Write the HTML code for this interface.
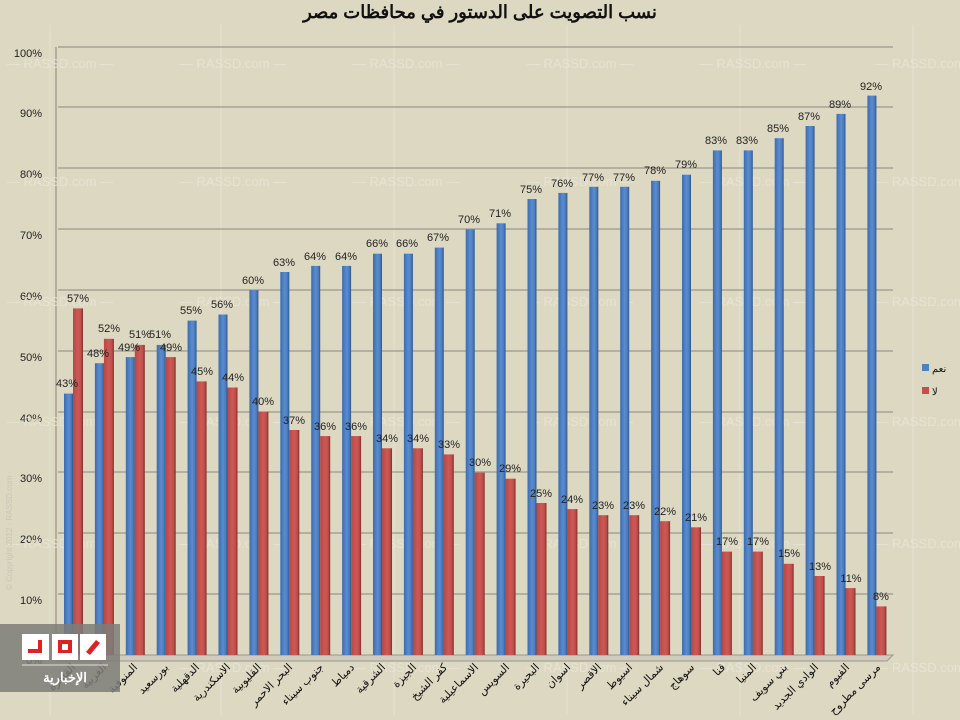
<!DOCTYPE html>
<html><head><meta charset="utf-8"><style>
html,body{margin:0;padding:0;background:#ddd8c2;}
svg{display:block;font-family:"Liberation Sans","Noto Sans CJK SC",sans-serif;}
</style></head><body>
<svg width="960" height="720" viewBox="0 0 960 720" xmlns="http://www.w3.org/2000/svg">
<defs>
<linearGradient id="gb" x1="0" x2="1"><stop offset="0" stop-color="#3a6cae"/><stop offset="0.5" stop-color="#5b8ccf"/><stop offset="0.8" stop-color="#4a7bbd"/><stop offset="1" stop-color="#2c558c"/></linearGradient>
<linearGradient id="gr" x1="0" x2="1"><stop offset="0" stop-color="#b84844"/><stop offset="0.5" stop-color="#cc5955"/><stop offset="0.8" stop-color="#bf4d49"/><stop offset="1" stop-color="#7e2e2c"/></linearGradient>
</defs>
<rect width="960" height="720" fill="#ddd8c2"/>
<g stroke="#e6e2d2" stroke-width="1">
<line x1="50" y1="25" x2="50" y2="715"/><line x1="221" y1="25" x2="221" y2="715"/><line x1="394" y1="25" x2="394" y2="715"/><line x1="567" y1="25" x2="567" y2="715"/><line x1="740" y1="25" x2="740" y2="715"/><line x1="913" y1="25" x2="913" y2="715"/>
</g>
<text x="480" y="18" text-anchor="middle" font-size="18" font-weight="bold" fill="#111">نسب التصويت على الدستور في محافظات مصر</text>
<g stroke="#9a988e" stroke-width="1.3" fill="none">
<line x1="58" y1="47" x2="893" y2="47"/><line x1="58" y1="107" x2="893" y2="107"/><line x1="58" y1="168" x2="893" y2="168"/><line x1="58" y1="229" x2="893" y2="229"/><line x1="58" y1="290" x2="893" y2="290"/><line x1="58" y1="351" x2="893" y2="351"/><line x1="58" y1="412" x2="893" y2="412"/><line x1="58" y1="472" x2="893" y2="472"/><line x1="58" y1="533" x2="893" y2="533"/><line x1="58" y1="594" x2="893" y2="594"/>
<line x1="56" y1="47" x2="56" y2="660"/>
</g>
<polygon points="56,655 893,655 887,661 56,661" fill="#cfcbbd" stroke="#9a978c"/>
<g font-size="11" fill="#222" text-anchor="end">
<text x="42" y="57">100%</text><text x="42" y="117">90%</text><text x="42" y="178">80%</text><text x="42" y="239">70%</text><text x="42" y="300">60%</text><text x="42" y="361">50%</text><text x="42" y="422">40%</text><text x="42" y="482">30%</text><text x="42" y="543">20%</text><text x="42" y="604">10%</text><text x="42" y="664">0%</text>
</g>
<g font-size="13" fill="#ebe7d9" text-anchor="middle" opacity="0.75">
<text x="60" y="68">— RASSD.com —</text><text x="233" y="68">— RASSD.com —</text><text x="406" y="68">— RASSD.com —</text><text x="580" y="68">— RASSD.com —</text><text x="753" y="68">— RASSD.com —</text><text x="920" y="68">— RASSD.com</text>
<text x="60" y="186">— RASSD.com —</text><text x="233" y="186">— RASSD.com —</text><text x="406" y="186">— RASSD.com —</text><text x="580" y="186">— RASSD.com —</text><text x="753" y="186">— RASSD.com —</text><text x="920" y="186">— RASSD.com</text>
<text x="60" y="306">— RASSD.com —</text><text x="233" y="306">— RASSD.com —</text><text x="406" y="306">— RASSD.com —</text><text x="580" y="306">— RASSD.com —</text><text x="753" y="306">— RASSD.com —</text><text x="920" y="306">— RASSD.com</text>
<text x="60" y="426">— RASSD.com —</text><text x="233" y="426">— RASSD.com —</text><text x="406" y="426">— RASSD.com —</text><text x="580" y="426">— RASSD.com —</text><text x="753" y="426">— RASSD.com —</text><text x="920" y="426">— RASSD.com</text>
<text x="60" y="548">— RASSD.com —</text><text x="233" y="548">— RASSD.com —</text><text x="406" y="548">— RASSD.com —</text><text x="580" y="548">— RASSD.com —</text><text x="753" y="548">— RASSD.com —</text><text x="920" y="548">— RASSD.com</text>
<text x="233" y="672">— RASSD.com —</text><text x="406" y="672">— RASSD.com —</text><text x="580" y="672">— RASSD.com —</text><text x="753" y="672">— RASSD.com —</text><text x="920" y="672">— RASSD.com</text>
</g>
<text transform="translate(12,590) rotate(-90)" font-size="8" fill="#c9c5b5">© Copyright 2012 - RASSD.com</text>
<g>
<rect x="64.0" y="393.6" width="9" height="261.4" fill="url(#gb)"/><rect x="73.0" y="308.4" width="10" height="346.6" fill="url(#gr)"/>
<rect x="94.9" y="363.2" width="9" height="291.8" fill="url(#gb)"/><rect x="103.9" y="338.8" width="10" height="316.2" fill="url(#gr)"/>
<rect x="125.8" y="357.1" width="9" height="297.9" fill="url(#gb)"/><rect x="134.8" y="344.9" width="10" height="310.1" fill="url(#gr)"/>
<rect x="156.7" y="344.9" width="9" height="310.1" fill="url(#gb)"/><rect x="165.7" y="357.1" width="10" height="297.9" fill="url(#gr)"/>
<rect x="187.6" y="320.6" width="9" height="334.4" fill="url(#gb)"/><rect x="196.6" y="381.4" width="10" height="273.6" fill="url(#gr)"/>
<rect x="218.5" y="314.5" width="9" height="340.5" fill="url(#gb)"/><rect x="227.5" y="387.5" width="10" height="267.5" fill="url(#gr)"/>
<rect x="249.4" y="290.2" width="9" height="364.8" fill="url(#gb)"/><rect x="258.4" y="411.8" width="10" height="243.2" fill="url(#gr)"/>
<rect x="280.3" y="272.0" width="9" height="383.0" fill="url(#gb)"/><rect x="289.3" y="430.0" width="10" height="225.0" fill="url(#gr)"/>
<rect x="311.2" y="265.9" width="9" height="389.1" fill="url(#gb)"/><rect x="320.2" y="436.1" width="10" height="218.9" fill="url(#gr)"/>
<rect x="342.1" y="265.9" width="9" height="389.1" fill="url(#gb)"/><rect x="351.1" y="436.1" width="10" height="218.9" fill="url(#gr)"/>
<rect x="373.0" y="253.7" width="9" height="401.3" fill="url(#gb)"/><rect x="382.0" y="448.3" width="10" height="206.7" fill="url(#gr)"/>
<rect x="403.9" y="253.7" width="9" height="401.3" fill="url(#gb)"/><rect x="412.9" y="448.3" width="10" height="206.7" fill="url(#gr)"/>
<rect x="434.8" y="247.6" width="9" height="407.4" fill="url(#gb)"/><rect x="443.8" y="454.4" width="10" height="200.6" fill="url(#gr)"/>
<rect x="465.7" y="229.4" width="9" height="425.6" fill="url(#gb)"/><rect x="474.7" y="472.6" width="10" height="182.4" fill="url(#gr)"/>
<rect x="496.6" y="223.3" width="9" height="431.7" fill="url(#gb)"/><rect x="505.6" y="478.7" width="10" height="176.3" fill="url(#gr)"/>
<rect x="527.5" y="199.0" width="9" height="456.0" fill="url(#gb)"/><rect x="536.5" y="503.0" width="10" height="152.0" fill="url(#gr)"/>
<rect x="558.4" y="192.9" width="9" height="462.1" fill="url(#gb)"/><rect x="567.4" y="509.1" width="10" height="145.9" fill="url(#gr)"/>
<rect x="589.3" y="186.8" width="9" height="468.2" fill="url(#gb)"/><rect x="598.3" y="515.2" width="10" height="139.8" fill="url(#gr)"/>
<rect x="620.2" y="186.8" width="9" height="468.2" fill="url(#gb)"/><rect x="629.2" y="515.2" width="10" height="139.8" fill="url(#gr)"/>
<rect x="651.1" y="180.8" width="9" height="474.2" fill="url(#gb)"/><rect x="660.1" y="521.2" width="10" height="133.8" fill="url(#gr)"/>
<rect x="682.0" y="174.7" width="9" height="480.3" fill="url(#gb)"/><rect x="691.0" y="527.3" width="10" height="127.7" fill="url(#gr)"/>
<rect x="712.9" y="150.4" width="9" height="504.6" fill="url(#gb)"/><rect x="721.9" y="551.6" width="10" height="103.4" fill="url(#gr)"/>
<rect x="743.8" y="150.4" width="9" height="504.6" fill="url(#gb)"/><rect x="752.8" y="551.6" width="10" height="103.4" fill="url(#gr)"/>
<rect x="774.7" y="138.2" width="9" height="516.8" fill="url(#gb)"/><rect x="783.7" y="563.8" width="10" height="91.2" fill="url(#gr)"/>
<rect x="805.6" y="126.0" width="9" height="529.0" fill="url(#gb)"/><rect x="814.6" y="576.0" width="10" height="79.0" fill="url(#gr)"/>
<rect x="836.5" y="113.9" width="9" height="541.1" fill="url(#gb)"/><rect x="845.5" y="588.1" width="10" height="66.9" fill="url(#gr)"/>
<rect x="867.4" y="95.6" width="9" height="559.4" fill="url(#gb)"/><rect x="876.4" y="606.4" width="10" height="48.6" fill="url(#gr)"/>
</g>
<g font-size="11" fill="#222" text-anchor="middle">
<text x="67" y="387">43%</text><text x="78" y="302">57%</text>
<text x="98" y="357">48%</text><text x="109" y="332">52%</text>
<text x="129" y="351">49%</text><text x="140" y="338">51%</text>
<text x="160" y="338">51%</text><text x="171" y="351">49%</text>
<text x="191" y="314">55%</text><text x="202" y="375">45%</text>
<text x="222" y="308">56%</text><text x="233" y="381">44%</text>
<text x="253" y="284">60%</text><text x="263" y="405">40%</text>
<text x="284" y="266">63%</text><text x="294" y="424">37%</text>
<text x="315" y="260">64%</text><text x="325" y="430">36%</text>
<text x="346" y="260">64%</text><text x="356" y="430">36%</text>
<text x="377" y="247">66%</text><text x="387" y="442">34%</text>
<text x="407" y="247">66%</text><text x="418" y="442">34%</text>
<text x="438" y="241">67%</text><text x="449" y="448">33%</text>
<text x="469" y="223">70%</text><text x="480" y="466">30%</text>
<text x="500" y="217">71%</text><text x="510" y="472">29%</text>
<text x="531" y="193">75%</text><text x="541" y="497">25%</text>
<text x="562" y="187">76%</text><text x="572" y="503">24%</text>
<text x="593" y="181">77%</text><text x="603" y="509">23%</text>
<text x="624" y="181">77%</text><text x="634" y="509">23%</text>
<text x="655" y="174">78%</text><text x="665" y="515">22%</text>
<text x="686" y="168">79%</text><text x="696" y="521">21%</text>
<text x="716" y="144">83%</text><text x="727" y="545">17%</text>
<text x="747" y="144">83%</text><text x="758" y="545">17%</text>
<text x="778" y="132">85%</text><text x="789" y="557">15%</text>
<text x="809" y="120">87%</text><text x="820" y="570">13%</text>
<text x="840" y="108">89%</text><text x="851" y="582">11%</text>
<text x="871" y="90">92%</text><text x="881" y="600">8%</text>
</g>
<g font-size="11" fill="#111" text-anchor="end">
<text transform="translate(76,668) rotate(-45)">القاهرة</text>
<text transform="translate(107,668) rotate(-45)">الغربية</text>
<text transform="translate(138,668) rotate(-45)">المنوفية</text>
<text transform="translate(169,668) rotate(-45)">بورسعيد</text>
<text transform="translate(200,668) rotate(-45)">الدقهلية</text>
<text transform="translate(231,668) rotate(-45)">الاسكندرية</text>
<text transform="translate(262,668) rotate(-45)">القليوبية</text>
<text transform="translate(293,668) rotate(-45)">البحر الاحمر</text>
<text transform="translate(324,668) rotate(-45)">جنوب سيناء</text>
<text transform="translate(355,668) rotate(-45)">دمياط</text>
<text transform="translate(386,668) rotate(-45)">الشرقية</text>
<text transform="translate(417,668) rotate(-45)">الجيزة</text>
<text transform="translate(448,668) rotate(-45)">كفر الشيخ</text>
<text transform="translate(479,668) rotate(-45)">الاسماعيلية</text>
<text transform="translate(510,668) rotate(-45)">السويس</text>
<text transform="translate(540,668) rotate(-45)">البحيرة</text>
<text transform="translate(571,668) rotate(-45)">اسوان</text>
<text transform="translate(602,668) rotate(-45)">الاقصر</text>
<text transform="translate(633,668) rotate(-45)">اسيوط</text>
<text transform="translate(664,668) rotate(-45)">شمال سيناء</text>
<text transform="translate(695,668) rotate(-45)">سوهاج</text>
<text transform="translate(726,668) rotate(-45)">قنا</text>
<text transform="translate(757,668) rotate(-45)">المنيا</text>
<text transform="translate(788,668) rotate(-45)">بني سويف</text>
<text transform="translate(819,668) rotate(-45)">الوادي الجديد</text>
<text transform="translate(850,668) rotate(-45)">الفيوم</text>
<text transform="translate(881,668) rotate(-45)">مرسى مطروح</text>
</g>
<rect x="922" y="364" width="7" height="7" fill="#4f81bd"/>
<text x="932" y="372" font-size="10" fill="#111">نعم</text>
<rect x="922" y="387" width="7" height="7" fill="#c0504d"/>
<text x="932" y="395" font-size="10" fill="#111">لا</text>
<rect x="0" y="624" width="120" height="68" fill="#7d7c78" opacity="0.85"/>
<rect x="22" y="634" width="27" height="26" fill="#fff"/>
<rect x="52" y="634" width="26" height="26" fill="#fff"/>
<rect x="80" y="634" width="26" height="26" fill="#fff"/>
<rect x="28" y="649" width="14" height="4" fill="#d22"/><rect x="38" y="640" width="4" height="13" fill="#d22"/>
<rect x="58" y="640" width="14" height="13" fill="#d22"/><rect x="62" y="644" width="6" height="6" fill="#fff"/>
<polygon points="86,652 96,640 100,643 90,655" fill="#d22"/>
<line x1="22" y1="665" x2="108" y2="665" stroke="#ddd" stroke-width="1"/>
<text x="65" y="682" font-size="13" font-weight="bold" fill="#fff" text-anchor="middle">الإخبارية</text>
</svg>
</body></html>
